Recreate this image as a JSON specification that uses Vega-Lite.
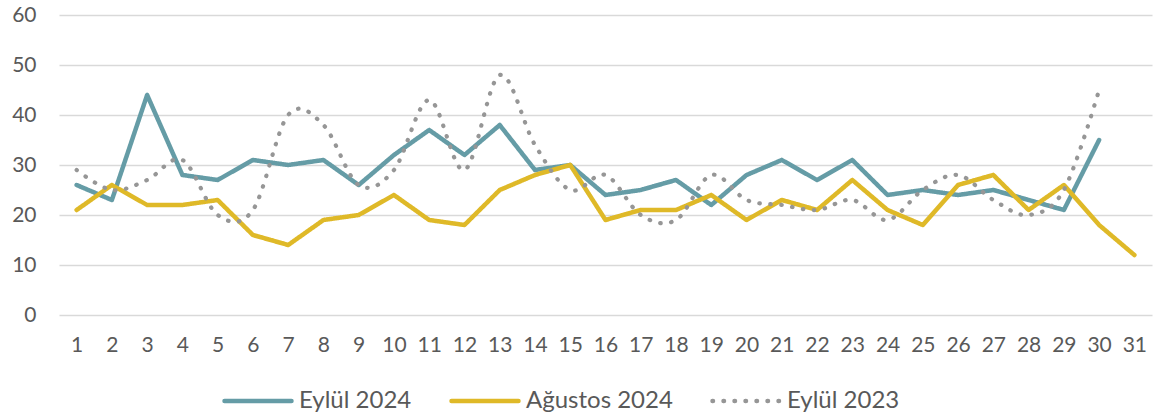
{
  "$schema": "https://vega.github.io/schema/vega-lite/v6.json",
  "autosize": {"type": "none"},
  "width": 1093,
  "height": 300,
  "padding": {"left": 59, "top": 15, "right": 4, "bottom": 102},
  "background": "white",
  "datasets": {
    "rows": [
      {"day": 1, "series": "Eylül 2024", "value": 26}, {"day": 2, "series": "Eylül 2024", "value": 23}, {"day": 3, "series": "Eylül 2024", "value": 44}, {"day": 4, "series": "Eylül 2024", "value": 28}, {"day": 5, "series": "Eylül 2024", "value": 27}, {"day": 6, "series": "Eylül 2024", "value": 31}, {"day": 7, "series": "Eylül 2024", "value": 30}, {"day": 8, "series": "Eylül 2024", "value": 31}, {"day": 9, "series": "Eylül 2024", "value": 26}, {"day": 10, "series": "Eylül 2024", "value": 32}, {"day": 11, "series": "Eylül 2024", "value": 37}, {"day": 12, "series": "Eylül 2024", "value": 32}, {"day": 13, "series": "Eylül 2024", "value": 38}, {"day": 14, "series": "Eylül 2024", "value": 29}, {"day": 15, "series": "Eylül 2024", "value": 30}, {"day": 16, "series": "Eylül 2024", "value": 24}, {"day": 17, "series": "Eylül 2024", "value": 25}, {"day": 18, "series": "Eylül 2024", "value": 27}, {"day": 19, "series": "Eylül 2024", "value": 22}, {"day": 20, "series": "Eylül 2024", "value": 28}, {"day": 21, "series": "Eylül 2024", "value": 31}, {"day": 22, "series": "Eylül 2024", "value": 27}, {"day": 23, "series": "Eylül 2024", "value": 31}, {"day": 24, "series": "Eylül 2024", "value": 24}, {"day": 25, "series": "Eylül 2024", "value": 25}, {"day": 26, "series": "Eylül 2024", "value": 24}, {"day": 27, "series": "Eylül 2024", "value": 25}, {"day": 28, "series": "Eylül 2024", "value": 23}, {"day": 29, "series": "Eylül 2024", "value": 21}, {"day": 30, "series": "Eylül 2024", "value": 35},
      {"day": 1, "series": "Ağustos 2024", "value": 21}, {"day": 2, "series": "Ağustos 2024", "value": 26}, {"day": 3, "series": "Ağustos 2024", "value": 22}, {"day": 4, "series": "Ağustos 2024", "value": 22}, {"day": 5, "series": "Ağustos 2024", "value": 23}, {"day": 6, "series": "Ağustos 2024", "value": 16}, {"day": 7, "series": "Ağustos 2024", "value": 14}, {"day": 8, "series": "Ağustos 2024", "value": 19}, {"day": 9, "series": "Ağustos 2024", "value": 20}, {"day": 10, "series": "Ağustos 2024", "value": 24}, {"day": 11, "series": "Ağustos 2024", "value": 19}, {"day": 12, "series": "Ağustos 2024", "value": 18}, {"day": 13, "series": "Ağustos 2024", "value": 25}, {"day": 14, "series": "Ağustos 2024", "value": 28}, {"day": 15, "series": "Ağustos 2024", "value": 30}, {"day": 16, "series": "Ağustos 2024", "value": 19}, {"day": 17, "series": "Ağustos 2024", "value": 21}, {"day": 18, "series": "Ağustos 2024", "value": 21}, {"day": 19, "series": "Ağustos 2024", "value": 24}, {"day": 20, "series": "Ağustos 2024", "value": 19}, {"day": 21, "series": "Ağustos 2024", "value": 23}, {"day": 22, "series": "Ağustos 2024", "value": 21}, {"day": 23, "series": "Ağustos 2024", "value": 27}, {"day": 24, "series": "Ağustos 2024", "value": 21}, {"day": 25, "series": "Ağustos 2024", "value": 18}, {"day": 26, "series": "Ağustos 2024", "value": 26}, {"day": 27, "series": "Ağustos 2024", "value": 28}, {"day": 28, "series": "Ağustos 2024", "value": 21}, {"day": 29, "series": "Ağustos 2024", "value": 26}, {"day": 30, "series": "Ağustos 2024", "value": 18}, {"day": 31, "series": "Ağustos 2024", "value": 12},
      {"day": 1, "series": "Eylül 2023", "value": 29}, {"day": 2, "series": "Eylül 2023", "value": 25}, {"day": 3, "series": "Eylül 2023", "value": 27}, {"day": 4, "series": "Eylül 2023", "value": 31}, {"day": 5, "series": "Eylül 2023", "value": 20}, {"day": 6, "series": "Eylül 2023", "value": 21}, {"day": 7, "series": "Eylül 2023", "value": 40}, {"day": 8, "series": "Eylül 2023", "value": 38}, {"day": 9, "series": "Eylül 2023", "value": 26}, {"day": 10, "series": "Eylül 2023", "value": 29}, {"day": 11, "series": "Eylül 2023", "value": 43}, {"day": 12, "series": "Eylül 2023", "value": 29}, {"day": 13, "series": "Eylül 2023", "value": 48}, {"day": 14, "series": "Eylül 2023", "value": 34}, {"day": 15, "series": "Eylül 2023", "value": 25}, {"day": 16, "series": "Eylül 2023", "value": 28}, {"day": 17, "series": "Eylül 2023", "value": 20}, {"day": 18, "series": "Eylül 2023", "value": 19}, {"day": 19, "series": "Eylül 2023", "value": 28}, {"day": 20, "series": "Eylül 2023", "value": 23}, {"day": 21, "series": "Eylül 2023", "value": 22}, {"day": 22, "series": "Eylül 2023", "value": 21}, {"day": 23, "series": "Eylül 2023", "value": 23}, {"day": 24, "series": "Eylül 2023", "value": 19}, {"day": 25, "series": "Eylül 2023", "value": 25}, {"day": 26, "series": "Eylül 2023", "value": 28}, {"day": 27, "series": "Eylül 2023", "value": 23}, {"day": 28, "series": "Eylül 2023", "value": 20}, {"day": 29, "series": "Eylül 2023", "value": 25}, {"day": 30, "series": "Eylül 2023", "value": 45}
    ]
  },
  "data": {"name": "rows"},
  "encoding": {
    "x": {
      "field": "day", "type": "ordinal", "sort": "ascending",
      "scale": {"type": "point", "padding": 0.5, "domain": [1,2,3,4,5,6,7,8,9,10,11,12,13,14,15,16,17,18,19,20,21,22,23,24,25,26,27,28,29,30,31]},
      "axis": {"title": null, "labelAngle": 0, "domain": false, "ticks": false, "tickSize": 0, "labelPadding": 19, "labelFont": "Lato", "labelFontSize": 21, "labelColor": "#595959", "grid": false}
    },
    "y": {
      "field": "value", "type": "quantitative",
      "scale": {"domain": [0, 60], "nice": false},
      "axis": {"title": null, "values": [0,10,20,30,40,50,60], "domain": false, "ticks": false, "tickSize": 0, "labelPadding": 23, "labelFont": "Lato", "labelFontSize": 21, "labelColor": "#595959", "grid": true, "gridColor": "#d9d9d9", "gridWidth": 1.5}
    },
    "color": {
      "field": "series", "type": "nominal",
      "scale": {"domain": ["Eylül 2024", "Ağustos 2024", "Eylül 2023"], "range": ["#659ca6", "#dfb928", "#969696"]},
      "legend": {
        "title": null, "orient": "none", "direction": "horizontal", "legendX": 163, "legendY": 350,
        "symbolType": "stroke", "symbolSize": 4489, "symbolStrokeWidth": 4.5,
        "labelFont": "Lato", "labelFontSize": 24, "labelColor": "#595959", "labelOffset": 5,
        "columnPadding": 30, "padding": 0,
        "encode": {"symbols": {"update": {"strokeCap": {"value": "round"}}}}
      }
    },
    "strokeDash": {
      "field": "series", "type": "nominal",
      "scale": {"domain": ["Eylül 2024", "Ağustos 2024", "Eylül 2023"], "range": [[1, 0], [1, 0], [0.5, 10.5]]},
      "legend": {
        "title": null, "orient": "none", "direction": "horizontal", "legendX": 163, "legendY": 350,
        "symbolType": "stroke", "symbolSize": 4489, "symbolStrokeWidth": 4.5,
        "labelFont": "Lato", "labelFontSize": 24, "labelColor": "#595959", "labelOffset": 5,
        "columnPadding": 30, "padding": 0,
        "encode": {"symbols": {"update": {"strokeCap": {"value": "round"}}}}
      }
    }
  },
  "layer": [
    {"transform": [{"filter": "datum.series === 'Eylül 2024'"}], "mark": {"type": "line", "strokeWidth": 4.5, "strokeCap": "round", "strokeJoin": "round"}},
    {"transform": [{"filter": "datum.series === 'Ağustos 2024'"}], "mark": {"type": "line", "strokeWidth": 4.5, "strokeCap": "round", "strokeJoin": "round"}},
    {"transform": [{"filter": "datum.series === 'Eylül 2023'"}], "mark": {"type": "line", "strokeWidth": 4.2, "strokeCap": "round", "strokeJoin": "round", "interpolate": "cardinal"}}
  ],
  "config": {"view": {"stroke": null}}
}
